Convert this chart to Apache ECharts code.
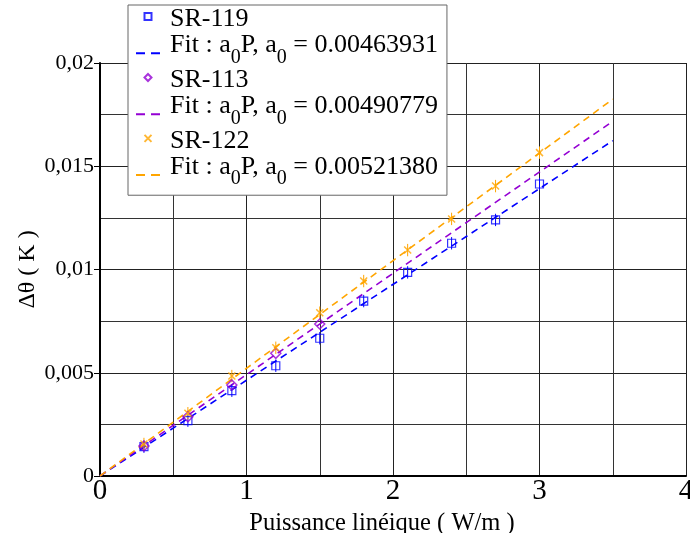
<!DOCTYPE html>
<html>
<head>
<meta charset="utf-8">
<script src="https://cdn.jsdelivr.net/npm/echarts@6/dist/echarts.min.js"></script>
<style>html,body{margin:0;padding:0;background:#fff}#c{width:690px;height:533px}</style>
</head>
<body>
<div id="c"></div>
<script>
var xTicks = ['0', '1', '2', '3', '4'];
var yTicks = ['0', '0,005', '0,01', '0,015', '0,02'];

var p119 = [0.3, 0.6, 0.9, 1.2, 1.5, 1.8, 2.1, 2.4, 2.7, 3.0];
var v119 = [0.00142, 0.00268, 0.00413, 0.00534, 0.00667, 0.00847, 0.00986, 0.01127, 0.0124, 0.01414];
var e119 = [0.0003, 0.0003, 0.0003, 0.0003, 0.0003, 0.0003, 0.0003, 0.0003, 0.0003, 0.0003];

var p113 = [0.3, 0.6, 0.9, 1.2, 1.5];
var v113 = [0.00145, 0.00287, 0.00441, 0.00594, 0.00736];

var p122 = [0.3, 0.6, 0.9, 1.2, 1.5, 1.8, 2.1, 2.4, 2.7, 3.0];
var v122 = [0.00155, 0.00304, 0.00484, 0.00621, 0.00791, 0.00944, 0.01094, 0.01245, 0.01404, 0.01566];
var e122 = [0.0003, 0.0003, 0.0003, 0.0003, 0.0003, 0.0003, 0.0003, 0.0003, 0.0003, 0.0003];

var fitA = [0.00463931, 0.00490779, 0.00521380];
var fitLabels = ['0.00463931', '0.00490779', '0.00521380'];
var fitRange = [0, 3.5];

var BLUE = '#0000ff', PURPLE = '#9400d3', ORANGE = '#ffa500';
var FONT = 'Liberation Serif';

function pts(xs, ys) { return xs.map(function (x, i) { return [x, ys[i]]; }); }
function errPts(xs, ys, es) { return xs.map(function (x, i) { return [x, ys[i], es[i]]; }); }
function fitLine(a) { return fitRange.map(function (x) { return [x, a * x]; }); }

function errSeries(data, color) {
  return {
    type: 'custom', silent: true, z: 3,
    data: data,
    renderItem: function (params, api) {
      var x = api.value(0), y = api.value(1), e = api.value(2);
      var p1 = api.coord([x, y - e]), p2 = api.coord([x, y + e]);
      return { type: 'line', shape: { x1: p1[0], y1: p1[1], x2: p2[0], y2: p2[1] },
        style: { stroke: color, lineWidth: 1 } };
    }
  };
}

function fitText(i) {
  return '{g|Fit : a}{s|0}{n|P, a}{s|0}{n| = ' + fitLabels[i] + '}';
}
var legendNames = {
  'SR-119': '{f|SR-119}', 'fit119': fitText(0),
  'SR-113': '{f|SR-113}', 'fit113': fitText(1),
  'SR-122': '{f|SR-122}', 'fit122': fitText(2)
};

var ICON_SQ = 'path://M0,0H10V10H0Z';
var ICON_DI = 'path://M5,0L10,5L5,10L0,5Z';
var ICON_X = 'path://M0,0L10,10M0,10L10,0';
var ICON_DASH = 'path://M0,0H9V2H0ZM15,0H24V2H15Z';

var chart = echarts.init(document.getElementById('c'), null, { renderer: 'canvas' });
chart.setOption({
  animation: false,
  backgroundColor: '#fff',
  grid: { left: 100, top: 63, right: 4, bottom: 57, containLabel: false, outerBoundsMode: 'none' },
  xAxis: {
    type: 'value', min: 0, max: 4, interval: 1,
    name: 'Puissance linéique ( W/m )', nameLocation: 'middle', nameGap: 30,
    nameTextStyle: { fontFamily: FONT, fontSize: 24.5, color: '#000', padding: [0, 22, 0, 0] },
    axisLine: { show: true, onZero: false, lineStyle: { color: '#000', width: 2 } },
    axisTick: { show: false },
    axisLabel: { fontFamily: FONT, fontSize: 29, color: '#000', margin: 1, hideOverlap: false,
      formatter: function (v) { return xTicks[Math.round(v)]; } },
    splitLine: { show: true, lineStyle: { color: '#222', width: 1 } },
    minorTick: { show: false, splitNumber: 2 },
    minorSplitLine: { show: true, lineStyle: { color: '#333', width: 1 } }
  },
  yAxis: {
    type: 'value', min: 0, max: 0.02, interval: 0.005,
    name: 'Δθ ( K )', nameLocation: 'middle', nameGap: 60, nameRotate: 90, nameMoveOverlap: false,
    nameTextStyle: { fontFamily: FONT, fontSize: 24, color: '#000' },
    axisLine: { show: true, onZero: false, lineStyle: { color: '#000', width: 2 } },
    axisTick: { show: true, length: 6, inside: false, lineStyle: { color: '#000', width: 1 } },
    axisLabel: { fontFamily: FONT, fontSize: 22, color: '#000', margin: 6,
      formatter: function (v) { return yTicks[Math.round(v / 0.005)]; } },
    splitLine: { show: true, lineStyle: { color: '#222', width: 1 } },
    minorTick: { show: false, splitNumber: 2 },
    minorSplitLine: { show: true, lineStyle: { color: '#333', width: 1 } }
  },
  legend: {
    orient: 'vertical', left: 128, top: 5,
    padding: [1.6, 9, 6, 8],
    backgroundColor: '#fff', borderColor: '#666', borderWidth: 1,
    itemWidth: 24, itemHeight: 7, itemGap: 0,
    symbolKeepAspect: true,
    data: [
      { name: 'SR-119', icon: ICON_SQ }, { name: 'fit119', icon: ICON_DASH },
      { name: 'SR-113', icon: ICON_DI }, { name: 'fit113', icon: ICON_DASH },
      { name: 'SR-122', icon: ICON_X }, { name: 'fit122', icon: ICON_DASH }
    ],
    formatter: function (n) { return legendNames[n]; },
    textStyle: {
      fontFamily: FONT, fontSize: 26, color: '#000', height: 28.75,
      rich: {
        f: { fontFamily: FONT, fontSize: 26, color: '#000', lineHeight: 34.75, padding: [0, 0, 0, 5] },
        g: { fontFamily: FONT, fontSize: 26, color: '#000', lineHeight: 13.25, padding: [0, 0, 0, 5] },
        n: { fontFamily: FONT, fontSize: 26, color: '#000', lineHeight: 13.25 },
        s: { fontFamily: FONT, fontSize: 20, color: '#000', lineHeight: 13.25, verticalAlign: 'top', padding: [8.5, 0, 0, 0] }
      }
    }
  },
  series: [
    { name: 'fit119', type: 'line', data: fitLine(fitA[0]), symbol: 'none', showSymbol: false, z: 2,
      lineStyle: { color: BLUE, width: 1.6, type: [7, 5] }, itemStyle: { color: BLUE } },
    { name: 'fit113', type: 'line', data: fitLine(fitA[1]), symbol: 'none', showSymbol: false, z: 2,
      lineStyle: { color: PURPLE, width: 1.6, type: [7, 5] }, itemStyle: { color: PURPLE } },
    { name: 'fit122', type: 'line', data: fitLine(fitA[2]), symbol: 'none', showSymbol: false, z: 2,
      lineStyle: { color: ORANGE, width: 1.6, type: [7, 5] }, itemStyle: { color: ORANGE } },
    errSeries(errPts(p119, v119, e119), BLUE),
    errSeries(errPts(p122, v122, e122), ORANGE),
    { name: 'SR-119', type: 'scatter', data: pts(p119, v119), symbol: 'rect', symbolSize: 8, z: 4,
      itemStyle: { color: 'rgba(0,0,0,0)', borderColor: BLUE, borderWidth: 1.2 } },
    { name: 'SR-113', type: 'scatter', data: pts(p113, v113), symbol: 'diamond', symbolSize: 10, z: 4,
      itemStyle: { color: 'rgba(0,0,0,0)', borderColor: PURPLE, borderWidth: 1.5 } },
    { name: 'SR-122', type: 'scatter', data: pts(p122, v122), symbol: ICON_X, symbolSize: 7, z: 4,
      itemStyle: { color: 'rgba(0,0,0,0)', borderColor: ORANGE, borderWidth: 1.5 } }
  ]
});
</script>
</body>
</html>
